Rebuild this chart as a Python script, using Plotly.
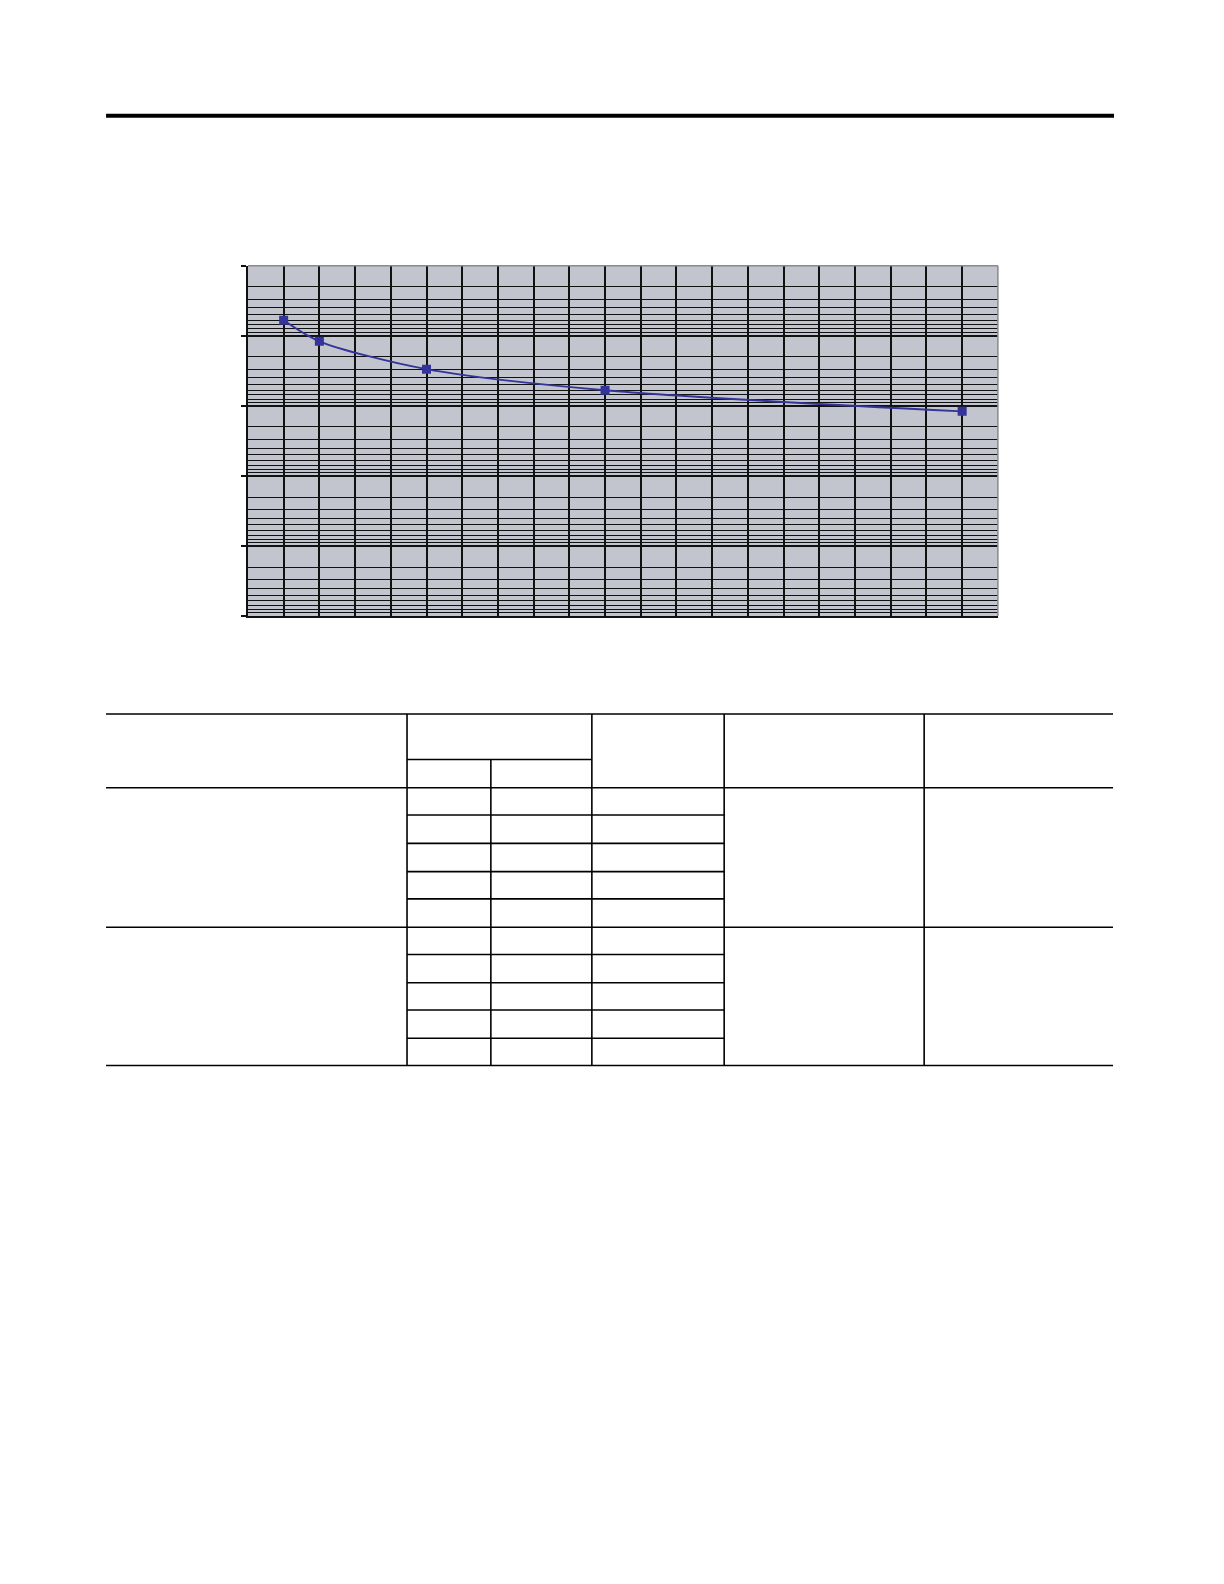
import plotly.graph_objects as go

# ---- data ----
x_vals = [1, 2, 5, 10, 20]
y_vals = [6, 12, 30, 60, 120]

# figure sits inside the page with an 8px body margin
M = 8
W, H = 1180, 1540
K = 1.01  # layout positions below were measured on a 0.99-scaled view

def py(p):
    return 1 - (p * K - M) / H

def px(p):
    return (p * K - M) / W

fig = go.Figure()
fig.add_trace(go.Scatter(
    x=x_vals, y=y_vals, mode="lines+markers",
    line=dict(color="#333399", width=1.9, shape="spline", smoothing=0.8),
    marker=dict(symbol="square", size=9, color="#333399"),
    showlegend=False, hoverinfo="skip",
))

minor_vals = [k * 10 ** n for n in range(5) for k in range(2, 10)]

fig.update_layout(
    width=W, height=H,
    margin=dict(l=0, r=0, t=0, b=0),
    paper_bgcolor="white",
    plot_bgcolor="#c2c5cd",
    xaxis=dict(
        domain=[px(245.5), px(988)],
        range=[0, 21], dtick=1, tick0=0,
        showgrid=True, gridcolor="#111111", gridwidth=1.6,
        showticklabels=False, ticks="", zeroline=False,
        showline=True, linecolor="#111111", linewidth=1.6,
    ),
    yaxis=dict(
        domain=[py(610), py(263)],
        type="log", range=[5, 0], dtick=1,
        showgrid=True, gridcolor="#111111", gridwidth=1.6,
        showticklabels=False, ticks="outside", ticklen=5,
        tickcolor="#111111", tickwidth=1.5,
        showline=True, linecolor="#111111", linewidth=1.6,
        zeroline=False,
        minor=dict(tickvals=minor_vals, showgrid=True,
                   gridcolor="#111111", gridwidth=1.4, ticks=""),
    ),
)

shapes = []
# plot top/right border
shapes.append(dict(type="line", xref="x domain", yref="y domain",
                   x0=0, x1=1, y0=1, y1=1, line=dict(color="#8a8a8a", width=1.5)))
shapes.append(dict(type="line", xref="x domain", yref="y domain",
                   x0=1, x1=1, y0=0, y1=1, line=dict(color="#8a8a8a", width=1.5)))

# page rule at top
shapes.append(dict(type="line", xref="paper", yref="paper",
                   x0=px(105), x1=px(1103), y0=py(114.5), y1=py(114.5),
                   line=dict(color="black", width=4)))

# ---- table grid (empty table) ----
tbl_left, tbl_right = 105, 1102
col_edges = [403, 486, 586, 717, 915]
tbl_top, hdr_sub, hdr_bot = 707, 752, 780
group_rows = [[780, 807, 835, 863, 890, 918], [918, 945, 973, 1000, 1028, 1055]]
tbl_bot = 1055

def hline(y, x0, x1, w=1.6):
    shapes.append(dict(type="line", xref="paper", yref="paper",
                       x0=px(x0), x1=px(x1), y0=py(y), y1=py(y),
                       line=dict(color="black", width=w)))

def vline(x, y0, y1, w=1.6):
    shapes.append(dict(type="line", xref="paper", yref="paper",
                       x0=px(x), x1=px(x), y0=py(y0), y1=py(y1),
                       line=dict(color="black", width=w)))

for y in [tbl_top, hdr_bot, 918, tbl_bot]:
    hline(y, tbl_left, tbl_right)
hline(hdr_sub, col_edges[0], col_edges[2])
for g in group_rows:
    for y in g[1:-1]:
        hline(y, col_edges[0], col_edges[3])
vline(col_edges[0], tbl_top, tbl_bot)
vline(col_edges[1], hdr_sub, tbl_bot)
vline(col_edges[2], tbl_top, tbl_bot)
vline(col_edges[3], tbl_top, tbl_bot)
vline(col_edges[4], tbl_top, tbl_bot)

fig.update_layout(shapes=shapes)
fig.write_html("out.html")
